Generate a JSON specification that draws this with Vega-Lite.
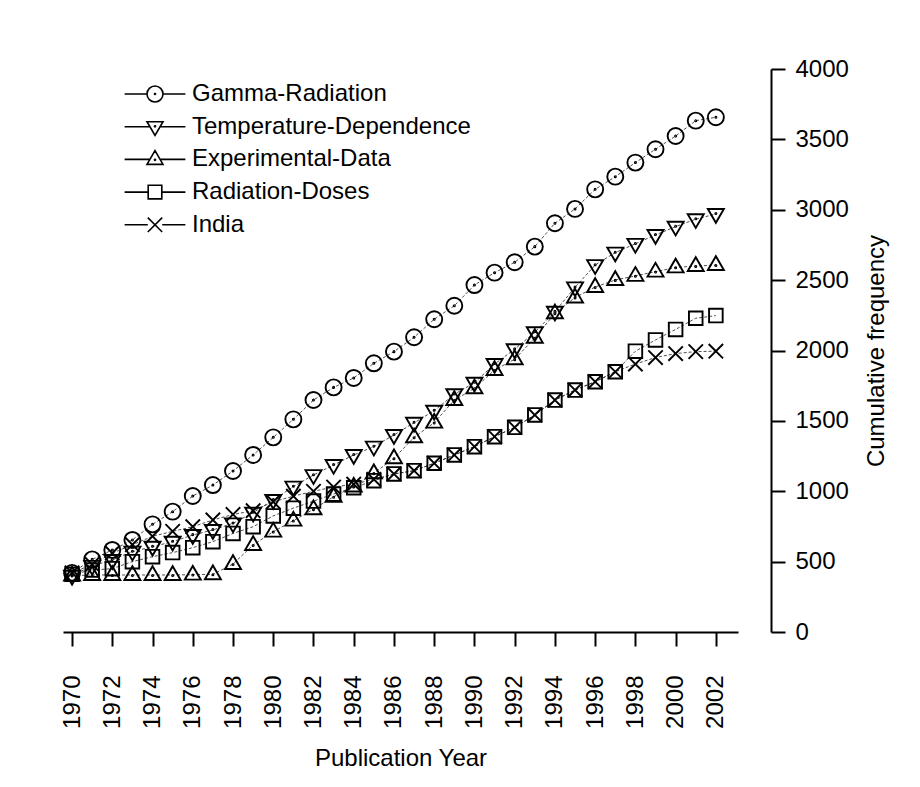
{
  "$schema": "https://vega.github.io/schema/vega-lite/v6.json",
  "width": 675,
  "height": 563,
  "autosize": {"type": "none"},
  "padding": {"left": 63, "top": 69, "right": 182, "bottom": 155},
  "background": "white",
  "config": {
    "font": "Liberation Sans",
    "view": {"stroke": null},
    "axis": {"labelFont": "Liberation Sans", "titleFont": "Liberation Sans", "labelColor": "black", "titleColor": "black", "titleFontWeight": "normal", "domainColor": "black", "tickColor": "black", "grid": false, "labelFlush": false, "labelOverlap": false},
    "legend": {"labelFont": "Liberation Sans", "labelColor": "black"}
  },
  "data": {
    "values": [
      {"year":1970,"series":"Gamma-Radiation","value":420},{"year":1971,"series":"Gamma-Radiation","value":516},{"year":1972,"series":"Gamma-Radiation","value":583},{"year":1973,"series":"Gamma-Radiation","value":654},{"year":1974,"series":"Gamma-Radiation","value":765},{"year":1975,"series":"Gamma-Radiation","value":855},{"year":1976,"series":"Gamma-Radiation","value":966},{"year":1977,"series":"Gamma-Radiation","value":1044},{"year":1978,"series":"Gamma-Radiation","value":1144},{"year":1979,"series":"Gamma-Radiation","value":1258},{"year":1980,"series":"Gamma-Radiation","value":1383},{"year":1981,"series":"Gamma-Radiation","value":1511},{"year":1982,"series":"Gamma-Radiation","value":1648},{"year":1983,"series":"Gamma-Radiation","value":1738},{"year":1984,"series":"Gamma-Radiation","value":1805},{"year":1985,"series":"Gamma-Radiation","value":1909},{"year":1986,"series":"Gamma-Radiation","value":1992},{"year":1987,"series":"Gamma-Radiation","value":2094},{"year":1988,"series":"Gamma-Radiation","value":2222},{"year":1989,"series":"Gamma-Radiation","value":2318},{"year":1990,"series":"Gamma-Radiation","value":2465},{"year":1991,"series":"Gamma-Radiation","value":2553},{"year":1992,"series":"Gamma-Radiation","value":2627},{"year":1993,"series":"Gamma-Radiation","value":2738},{"year":1994,"series":"Gamma-Radiation","value":2904},{"year":1995,"series":"Gamma-Radiation","value":3006},{"year":1996,"series":"Gamma-Radiation","value":3145},{"year":1997,"series":"Gamma-Radiation","value":3235},{"year":1998,"series":"Gamma-Radiation","value":3335},{"year":1999,"series":"Gamma-Radiation","value":3430},{"year":2000,"series":"Gamma-Radiation","value":3524},{"year":2001,"series":"Gamma-Radiation","value":3633},{"year":2002,"series":"Gamma-Radiation","value":3657},
      {"year":1970,"series":"Temperature-Dependence","value":400},{"year":1971,"series":"Temperature-Dependence","value":470},{"year":1972,"series":"Temperature-Dependence","value":512},{"year":1973,"series":"Temperature-Dependence","value":571},{"year":1974,"series":"Temperature-Dependence","value":606},{"year":1975,"series":"Temperature-Dependence","value":642},{"year":1976,"series":"Temperature-Dependence","value":689},{"year":1977,"series":"Temperature-Dependence","value":725},{"year":1978,"series":"Temperature-Dependence","value":772},{"year":1979,"series":"Temperature-Dependence","value":848},{"year":1980,"series":"Temperature-Dependence","value":938},{"year":1981,"series":"Temperature-Dependence","value":1033},{"year":1982,"series":"Temperature-Dependence","value":1115},{"year":1983,"series":"Temperature-Dependence","value":1187},{"year":1984,"series":"Temperature-Dependence","value":1258},{"year":1985,"series":"Temperature-Dependence","value":1317},{"year":1986,"series":"Temperature-Dependence","value":1400},{"year":1987,"series":"Temperature-Dependence","value":1487},{"year":1988,"series":"Temperature-Dependence","value":1572},{"year":1989,"series":"Temperature-Dependence","value":1689},{"year":1990,"series":"Temperature-Dependence","value":1771},{"year":1991,"series":"Temperature-Dependence","value":1904},{"year":1992,"series":"Temperature-Dependence","value":2009},{"year":1993,"series":"Temperature-Dependence","value":2130},{"year":1994,"series":"Temperature-Dependence","value":2276},{"year":1995,"series":"Temperature-Dependence","value":2449},{"year":1996,"series":"Temperature-Dependence","value":2607},{"year":1997,"series":"Temperature-Dependence","value":2696},{"year":1998,"series":"Temperature-Dependence","value":2758},{"year":1999,"series":"Temperature-Dependence","value":2821},{"year":2000,"series":"Temperature-Dependence","value":2880},{"year":2001,"series":"Temperature-Dependence","value":2933},{"year":2002,"series":"Temperature-Dependence","value":2970},
      {"year":1970,"series":"Experimental-Data","value":400},{"year":1971,"series":"Experimental-Data","value":405},{"year":1972,"series":"Experimental-Data","value":405},{"year":1973,"series":"Experimental-Data","value":405},{"year":1974,"series":"Experimental-Data","value":405},{"year":1975,"series":"Experimental-Data","value":405},{"year":1976,"series":"Experimental-Data","value":407},{"year":1977,"series":"Experimental-Data","value":410},{"year":1978,"series":"Experimental-Data","value":483},{"year":1979,"series":"Experimental-Data","value":618},{"year":1980,"series":"Experimental-Data","value":713},{"year":1981,"series":"Experimental-Data","value":791},{"year":1982,"series":"Experimental-Data","value":872},{"year":1983,"series":"Experimental-Data","value":961},{"year":1984,"series":"Experimental-Data","value":1033},{"year":1985,"series":"Experimental-Data","value":1128},{"year":1986,"series":"Experimental-Data","value":1234},{"year":1987,"series":"Experimental-Data","value":1383},{"year":1988,"series":"Experimental-Data","value":1487},{"year":1989,"series":"Experimental-Data","value":1648},{"year":1990,"series":"Experimental-Data","value":1731},{"year":1991,"series":"Experimental-Data","value":1861},{"year":1992,"series":"Experimental-Data","value":1938},{"year":1993,"series":"Experimental-Data","value":2090},{"year":1994,"series":"Experimental-Data","value":2264},{"year":1995,"series":"Experimental-Data","value":2376},{"year":1996,"series":"Experimental-Data","value":2451},{"year":1997,"series":"Experimental-Data","value":2501},{"year":1998,"series":"Experimental-Data","value":2530},{"year":1999,"series":"Experimental-Data","value":2560},{"year":2000,"series":"Experimental-Data","value":2590},{"year":2001,"series":"Experimental-Data","value":2600},{"year":2002,"series":"Experimental-Data","value":2607},
      {"year":1970,"series":"Radiation-Doses","value":410},{"year":1971,"series":"Radiation-Doses","value":440},{"year":1972,"series":"Radiation-Doses","value":450},{"year":1973,"series":"Radiation-Doses","value":500},{"year":1974,"series":"Radiation-Doses","value":535},{"year":1975,"series":"Radiation-Doses","value":564},{"year":1976,"series":"Radiation-Doses","value":599},{"year":1977,"series":"Radiation-Doses","value":642},{"year":1978,"series":"Radiation-Doses","value":700},{"year":1979,"series":"Radiation-Doses","value":748},{"year":1980,"series":"Radiation-Doses","value":825},{"year":1981,"series":"Radiation-Doses","value":880},{"year":1982,"series":"Radiation-Doses","value":930},{"year":1983,"series":"Radiation-Doses","value":980},{"year":1984,"series":"Radiation-Doses","value":1025},{"year":1985,"series":"Radiation-Doses","value":1075},{"year":1986,"series":"Radiation-Doses","value":1123},{"year":1987,"series":"Radiation-Doses","value":1146},{"year":1988,"series":"Radiation-Doses","value":1199},{"year":1989,"series":"Radiation-Doses","value":1258},{"year":1990,"series":"Radiation-Doses","value":1317},{"year":1991,"series":"Radiation-Doses","value":1388},{"year":1992,"series":"Radiation-Doses","value":1454},{"year":1993,"series":"Radiation-Doses","value":1542},{"year":1994,"series":"Radiation-Doses","value":1648},{"year":1995,"series":"Radiation-Doses","value":1719},{"year":1996,"series":"Radiation-Doses","value":1778},{"year":1997,"series":"Radiation-Doses","value":1849},{"year":1998,"series":"Radiation-Doses","value":1995},{"year":1999,"series":"Radiation-Doses","value":2075},{"year":2000,"series":"Radiation-Doses","value":2150},{"year":2001,"series":"Radiation-Doses","value":2229},{"year":2002,"series":"Radiation-Doses","value":2248},
      {"year":1970,"series":"India","value":420},{"year":1971,"series":"India","value":480},{"year":1972,"series":"India","value":560},{"year":1973,"series":"India","value":620},{"year":1974,"series":"India","value":680},{"year":1975,"series":"India","value":715},{"year":1976,"series":"India","value":748},{"year":1977,"series":"India","value":796},{"year":1978,"series":"India","value":835},{"year":1979,"series":"India","value":862},{"year":1980,"series":"India","value":925},{"year":1981,"series":"India","value":965},{"year":1982,"series":"India","value":1000},{"year":1983,"series":"India","value":1030},{"year":1984,"series":"India","value":1050},{"year":1985,"series":"India","value":1085},{"year":1986,"series":"India","value":1123},{"year":1987,"series":"India","value":1146},{"year":1988,"series":"India","value":1199},{"year":1989,"series":"India","value":1258},{"year":1990,"series":"India","value":1317},{"year":1991,"series":"India","value":1388},{"year":1992,"series":"India","value":1454},{"year":1993,"series":"India","value":1542},{"year":1994,"series":"India","value":1648},{"year":1995,"series":"India","value":1719},{"year":1996,"series":"India","value":1778},{"year":1997,"series":"India","value":1849},{"year":1998,"series":"India","value":1904},{"year":1999,"series":"India","value":1950},{"year":2000,"series":"India","value":1978},{"year":2001,"series":"India","value":1992},{"year":2002,"series":"India","value":1995}
    ]
  },
  "encoding": {
    "x": {
      "field": "year", "type": "quantitative",
      "scale": {"domain": [1969.55, 2003.1], "nice": false, "zero": false},
      "axis": {
        "orient": "bottom",
        "values": [1970,1972,1974,1976,1978,1980,1982,1984,1986,1988,1990,1992,1994,1996,1998,2000,2002],
        "format": "d", "labelAngle": 270, "labelFontSize": 24, "labelPadding": 29,
        "tickSize": 14, "tickWidth": 2, "domainWidth": 2,
        "title": "Publication Year", "titleFontSize": 24, "titlePadding": 18
      }
    },
    "y": {
      "field": "value", "type": "quantitative",
      "scale": {"domain": [0, 4000], "nice": false},
      "axis": {
        "orient": "right", "offset": 33, "format": "d",
        "values": [0,500,1000,1500,2000,2500,3000,3500,4000],
        "labelFontSize": 24, "labelPadding": 10,
        "tickSize": 14, "tickWidth": 2, "domainWidth": 2,
        "title": "Cumulative frequency", "titleFontSize": 24, "titleAngle": 270, "titlePadding": 40
      }
    }
  },
  "layer": [
    {
      "mark": {"type": "line", "color": "#222", "strokeWidth": 0.8, "strokeDash": [3, 2]},
      "encoding": {"detail": {"field": "series"}}
    },
    {
      "mark": {"type": "point", "filled": false, "strokeWidth": 1.9, "size": 256, "opacity": 1},
      "encoding": {
        "shape": {
          "field": "series", "type": "nominal",
          "scale": {
            "range": [
              "M-1,0.62L1,0.62L0,-1.1ZM-0.07,0.05A0.07,0.07 0 1,0 0.07,0.05A0.07,0.07 0 1,0 -0.07,0.05Z",
              "M-1,0A1,1 0 1,0 1,0A1,1 0 1,0 -1,0ZM-0.07,0A0.07,0.07 0 1,0 0.07,0A0.07,0.07 0 1,0 -0.07,0Z",
              "M-0.9,-0.9L0.9,0.9M-0.9,0.9L0.9,-0.9",
              "M-0.85,-0.85H0.85V0.85H-0.85Z",
              "M-1,-0.62L1,-0.62L0,1.1ZM-0.07,-0.05A0.07,0.07 0 1,0 0.07,-0.05A0.07,0.07 0 1,0 -0.07,-0.05Z"
            ]
          },
          "legend": null
        },
        "color": {
          "field": "series", "type": "nominal",
          "scale": {
            "domain": ["Gamma-Radiation", "Temperature-Dependence", "Experimental-Data", "Radiation-Doses", "India"],
            "range": ["black", "black", "black", "black", "black"]
          },
          "legend": {
            "orient": "none", "legendX": 80, "legendY": 13, "title": null,
            "labelFontSize": 24, "labelOffset": 25, "rowPadding": 8.7, "labelLimit": 0,
            "symbolSize": 256, "symbolStrokeWidth": 1.6, "symbolFillColor": "transparent",
            "symbolType": {"expr": "datum.value === 'Gamma-Radiation' ? 'M-3.8,0H-1M1,0H3.8M-1,0A1,1 0 1,0 1,0A1,1 0 1,0 -1,0ZM-0.07,0A0.07,0.07 0 1,0 0.07,0A0.07,0.07 0 1,0 -0.07,0Z' : datum.value === 'Temperature-Dependence' ? 'M-3.8,0H-0.64M0.64,0H3.8M-1,-0.62L1,-0.62L0,1.1ZM-0.07,-0.05A0.07,0.07 0 1,0 0.07,-0.05A0.07,0.07 0 1,0 -0.07,-0.05Z' : datum.value === 'Experimental-Data' ? 'M-3.8,0H-0.64M0.64,0H3.8M-1,0.62L1,0.62L0,-1.1ZM-0.07,0.05A0.07,0.07 0 1,0 0.07,0.05A0.07,0.07 0 1,0 -0.07,0.05Z' : datum.value === 'Radiation-Doses' ? 'M-3.8,0H-0.85M0.85,0H3.8M-0.85,-0.85H0.85V0.85H-0.85Z' : 'M-3.8,0H-0.9M0.9,0H3.8M-0.9,-0.9L0.9,0.9M-0.9,0.9L0.9,-0.9'"}
          }
        }
      }
    }
  ]
}
